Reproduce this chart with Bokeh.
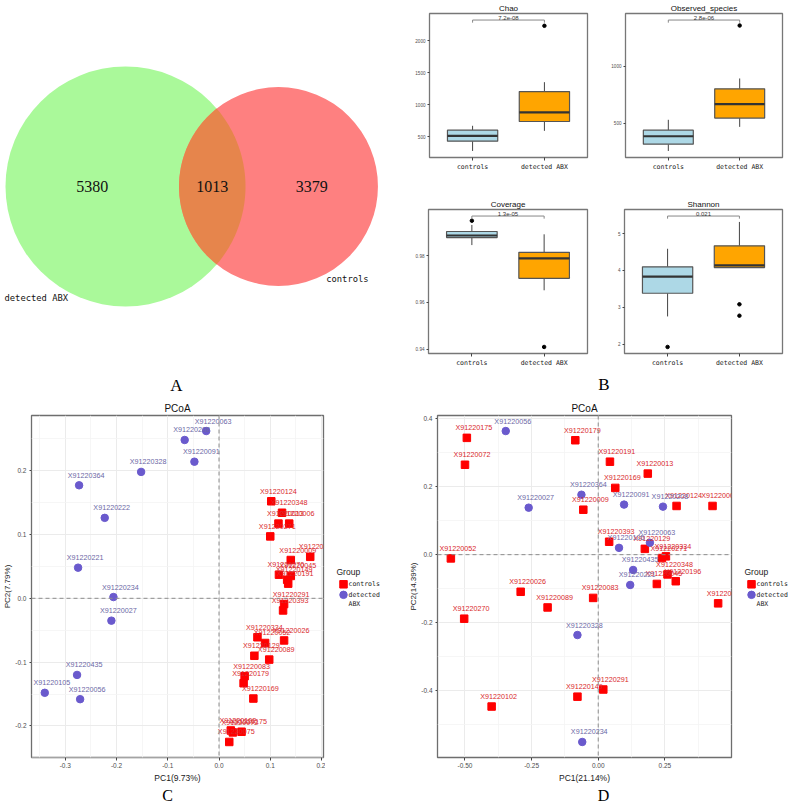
import math
from bokeh.plotting import figure
from bokeh.layouts import column, row
from bokeh.models import Range1d, FixedTicker, PrintfTickFormatter, Span
from bokeh.core.properties import value
from bokeh.embed import file_html
from bokeh.resources import INLINE

S = 1.0


def sc(v):
    return int(round(v * S))


SANS = "Liberation Sans"
MONO = "DejaVu Sans Mono"
SERIF = "Liberation Serif"

# ---------------- data: Venn (panel A) ----------------
venn_names = ["detected ABX", "controls"]
venn_unique = [5380, 3379]
venn_shared = 1013
venn_fill = ["#aaf99a", "#fe8080"]
venn_overlap_fill = "#e6854c"

# ---------------- data: alpha diversity boxplots (panel B) ----------------
groups = ["controls", "detected ABX"]
group_fill = ["#add8e6", "#ffa500"]
box_metrics = ["Chao", "Observed_species", "Coverage", "Shannon"]
box_q1 = [[432, 740], [315, 544], [0.9877, 0.9703], [3.38, 4.08]]
box_median = [[516, 882], [385, 667], [0.9886, 0.9788], [3.83, 4.14]]
box_q3 = [[605, 1207], [438, 800], [0.9903, 0.9814], [4.10, 4.67]]
box_lo = [[280, 594], [256, 467], [0.9845, 0.9652], [2.75, 4.08]]
box_hi = [[673, 1354], [529, 891], [0.9931, 0.9891], [4.59, 5.32]]
box_outliers = [[[], [2234]], [[], [1355]], [[0.9949], [0.9410]], [[1.92], [3.08, 2.77]]]
sig_labels = ["7.2e-08", "2.8e-06", "1.3e-05", "0.021"]
sig_y = [2324, 1403, 0.9969, 5.48]
box_ticks = [[500, 1000, 1500, 2000], [500, 1000], [0.94, 0.96, 0.98, 1.00], [2, 3, 4, 5]]
box_fmt = ["%d", "%d", "%.2f", "%d"]

# ---------------- data: PCoA panel C ----------------
c_ctrl_names = ["X91220124", "X91220348", "X91220013", "X91220006", "X91220271",
                "X91220009", "X91220196", "X91220270", "X91220045", "X91220149",
                "X91220191", "X91220291", "X91220393", "X91220334", "X91220052",
                "X91220026", "X91220129", "X91220089", "X91220083", "X91220179",
                "X91220169", "X91220102", "X91220175", "X91220072", "X91220075"]
c_ctrl_x = [0.102, 0.123, 0.116, 0.137, 0.100, 0.140, 0.178, 0.117, 0.140, 0.133,
            0.135, 0.127, 0.125, 0.075, 0.090, 0.127, 0.069, 0.098, 0.050, 0.048,
            0.067, 0.023, 0.044, 0.027, 0.020]
c_ctrl_y = [0.152, 0.134, 0.117, 0.117, 0.097, 0.060, 0.065, 0.037, 0.035, 0.029,
            0.023, -0.009, -0.019, -0.061, -0.070, -0.066, -0.090, -0.096, -0.122, -0.133,
            -0.157, -0.207, -0.209, -0.210, -0.225]
c_det_names = ["X91220063", "X91220208", "X91220091", "X91220328", "X91220364",
               "X91220222", "X91220221", "X91220234", "X91220027", "X91220435",
               "X91220105", "X91220056"]
c_det_x = [-0.025, -0.067, -0.048, -0.152, -0.273, -0.223, -0.275, -0.206, -0.210, -0.277,
           -0.340, -0.271]
c_det_y = [0.262, 0.248, 0.214, 0.198, 0.177, 0.126, 0.048, 0.002, -0.035, -0.120,
           -0.148, -0.158]
c_xticks = [-0.3, -0.2, -0.1, 0.0, 0.1, 0.2]
c_xminor = [-0.35, -0.25, -0.15, -0.05, 0.05, 0.15]
c_yticks = [-0.2, -0.1, 0.0, 0.1, 0.2]
c_yminor = [-0.25, -0.15, -0.05, 0.05, 0.15, 0.25]

# ---------------- data: PCoA panel D ----------------
d_ctrl_names = ["X91220175", "X91220072", "X91220179", "X91220191", "X91220013",
                "X91220169", "X91220009", "X91220124", "X91220006", "X91220393",
                "X91220129", "X91220271", "X91220334", "X91220348", "X91220196",
                "X91220045", "X91220052", "X91220026", "X91220083", "X91220089",
                "X91220075", "X91220270", "X91220291", "X91220149", "X91220102"]
d_ctrl_x = [-0.493, -0.500, -0.086, 0.044, 0.186, 0.064, -0.056, 0.294, 0.429, 0.041,
            0.175, 0.239, 0.254, 0.260, 0.291, 0.220, -0.553, -0.291, -0.019, -0.190,
            0.450, -0.503, 0.019, -0.078, -0.400]
d_ctrl_y = [0.343, 0.264, 0.336, 0.273, 0.238, 0.196, 0.132, 0.143, 0.143, 0.038,
            0.017, -0.010, -0.005, -0.058, -0.078, -0.086, -0.011, -0.109, -0.127, -0.155,
            -0.143, -0.188, -0.396, -0.417, -0.446]
d_det_names = ["X91220056", "X91220027", "X91220364", "X91220091", "X91220208",
               "X91220105", "X91220063", "X91220435", "X91220221", "X91220328",
               "X91220234"]
d_det_x = [-0.347, -0.261, -0.063, 0.097, 0.243, 0.078, 0.194, 0.131, 0.120, -0.078, -0.060]
d_det_y = [0.363, 0.138, 0.176, 0.147, 0.141, 0.020, 0.035, -0.045, -0.089, -0.236, -0.550]
d_xticks = [-0.50, -0.25, 0.0, 0.25]
d_xminor = [-0.375, -0.125, 0.125, 0.375]
d_yticks = [-0.4, -0.2, 0.0, 0.2, 0.4]
d_yminor = [-0.5, -0.3, -0.1, 0.1, 0.3]

panel_letters = ["A", "B", "C", "D"]

CTRL_COLOR = "#ff0000"
DET_COLOR = "#6a5acd"
CTRL_TEXT = "#d9282c"
DET_TEXT = "#6c68a6"


def blank_fig(w, h, xr, yr):
    f = figure(width=w, height=h, x_range=xr, y_range=yr, output_backend="svg",
               toolbar_location=None, x_axis_location=None, y_axis_location=None,
               min_border=0)
    f.grid.visible = False
    f.outline_line_color = None
    return f


# =============== Panel A: Venn ===============
VW, VH = 400, 395  # reference units


def lens_area(d, r1, r2):
    a1 = r1 * r1 * math.acos((d * d + r1 * r1 - r2 * r2) / (2 * d * r1))
    a2 = r2 * r2 * math.acos((d * d + r2 * r2 - r1 * r1) / (2 * d * r2))
    a3 = 0.5 * math.sqrt((-d + r1 + r2) * (d + r1 - r2) * (d - r1 + r2) * (d + r1 + r2))
    return a1 + a2 - a3


n1 = venn_unique[0] + venn_shared
n2 = venn_unique[1] + venn_shared
R1 = 120.0
K = R1 / math.sqrt(n1 / math.pi)
r1 = K * math.sqrt(n1 / math.pi)
r2 = K * math.sqrt(n2 / math.pi)
target = K * K * venn_shared
lo_d, hi_d = abs(r1 - r2) + 1e-6, r1 + r2 - 1e-6
for _ in range(80):
    mid = 0.5 * (lo_d + hi_d)
    if lens_area(mid, r1, r2) > target:
        lo_d = mid
    else:
        hi_d = mid
dist = 0.5 * (lo_d + hi_d)

cx1 = 5 + r1
cy = 186.0
cx2 = cx1 + dist

venn = blank_fig(sc(VW), sc(VH), Range1d(0, VW), Range1d(VH, 0))
venn.circle(x=[cx1, cx2], y=[cy, cy], radius=[r1, r2], fill_color=venn_fill, line_color=None)

a = (dist * dist + r1 * r1 - r2 * r2) / (2 * dist)
hh = math.sqrt(r1 * r1 - a * a)
t1 = math.atan2(hh, a)
t2 = math.atan2(hh, dist - a)
NP = 80
lx, ly = [], []
for k in range(NP + 1):
    ang = -t1 + 2 * t1 * k / NP
    lx.append(cx1 + r1 * math.cos(ang))
    ly.append(cy + r1 * math.sin(ang))
for k in range(NP + 1):
    ang = math.pi - t2 + 2 * t2 * k / NP
    lx.append(cx2 + r2 * math.cos(ang))
    ly.append(cy + r2 * math.sin(ang))
venn.patch(lx, ly, fill_color=venn_overlap_fill, line_color=None)

count_x = [((cx1 - r1) + (cx2 - r2)) / 2, ((cx2 - r2) + (cx1 + r1)) / 2, ((cx1 + r1) + (cx2 + r2)) / 2]
venn.text(x=count_x, y=[cy] * 3,
          text=[str(venn_unique[0]), str(venn_shared), str(venn_unique[1])],
          text_align="center", text_baseline="middle", text_font=value(SERIF),
          text_font_size="16px", text_color="#111111")
venn.text(x=[cx1 - r1 - 1, cx2 + 0.48 * r2], y=[cy + 0.93 * r1, cy + 0.93 * r2],
          text=venn_names, text_align="left", text_baseline="middle",
          text_font=value(MONO), text_font_size="8.8px", text_color="#111111")
venn.text(x=[VW * 0.44], y=[VH - 10], text=[panel_letters[0]], text_align="center",
          text_baseline="middle", text_font=value(SERIF), text_font_size="17px",
          text_color="#000000")


# =============== Panel B: boxplots ===============
def box_panel(i, w, h, left, right, top, bottom):
    all_lo = box_lo[i] + [v for g in box_outliers[i] for v in g]
    lo = min(all_lo)
    hi = sig_y[i]
    span = hi - lo
    xpos = [1, 2]
    p = figure(width=w, height=h, x_range=Range1d(0.4, 2.6),
               y_range=Range1d(lo - 0.05 * span, hi + 0.05 * span),
               output_backend="svg", toolbar_location=None, title=box_metrics[i],
               min_border_left=left, min_border_right=right, min_border_top=top,
               min_border_bottom=bottom)
    p.grid.visible = False
    p.outline_line_color = "#777777"
    p.outline_line_width = 1.3
    p.title.text_font = SANS
    p.title.text_font_size = "8px"
    p.title.text_font_style = "normal"
    p.title.align = "center"
    p.title.standoff = 2
    p.title.text_color = "#111111"

    p.segment(x0=xpos, y0=box_lo[i], x1=xpos, y1=box_q1[i], line_color="#444444", line_width=1)
    p.segment(x0=xpos, y0=box_q3[i], x1=xpos, y1=box_hi[i], line_color="#444444", line_width=1)
    p.vbar(x=xpos, bottom=box_q1[i], top=box_q3[i], width=0.7, fill_color=group_fill,
           line_color="#555555", line_width=1.2)
    p.rect(x=xpos, y=box_median[i], width=0.7, height=2.2, height_units="screen",
           fill_color="#333333", line_color=None)
    ox = [xpos[g] for g in range(2) for _ in box_outliers[i][g]]
    oy = [v for g in range(2) for v in box_outliers[i][g]]
    if ox:
        p.scatter(ox, oy, size=3.5, color="#000000")

    tip = 0.02 * span
    s = sig_y[i]
    p.segment(x0=[1, 1, 2], y0=[s, s, s], x1=[2, 1, 2], y1=[s, s - tip, s - tip],
              line_color="#888888", line_width=1)
    p.text(x=[1.5], y=[s], text=[sig_labels[i]], text_align="center", text_baseline="bottom",
           y_offset=0, text_font=value(SANS), text_font_size="6px", text_color="#333333")

    p.xaxis.ticker = FixedTicker(ticks=xpos)
    p.xaxis.major_label_overrides = {1: groups[0], 2: groups[1]}
    p.xaxis.major_label_text_font = MONO
    p.xaxis.major_label_text_font_size = "6.5px"
    p.xaxis.major_label_text_color = "#1a1a1a"
    p.xaxis.major_label_standoff = 2
    p.xaxis.major_tick_out = 3
    p.xaxis.major_tick_in = 0
    p.xaxis.minor_tick_line_color = None
    p.xaxis.axis_line_color = None
    p.xaxis.major_tick_line_color = "#444444"

    p.yaxis.ticker = FixedTicker(ticks=box_ticks[i])
    p.yaxis.formatter = PrintfTickFormatter(format=box_fmt[i])
    p.yaxis.major_label_text_font = SANS
    p.yaxis.major_label_text_font_size = "4.6px"
    p.yaxis.major_label_text_color = "#4d4d4d"
    p.yaxis.major_label_standoff = 2
    p.yaxis.major_tick_out = 2
    p.yaxis.major_tick_in = 0
    p.yaxis.minor_tick_line_color = None
    p.yaxis.axis_line_color = None
    p.yaxis.major_tick_line_color = "#444444"
    return p


TOP_H = sc(195)
BOT_H = sc(178)
FR_H = sc(144)
chao = box_panel(0, sc(196), TOP_H, sc(29), sc(9), sc(13), TOP_H - sc(13) - FR_H)
obs = box_panel(1, sc(197), TOP_H, sc(29), sc(11), sc(13), TOP_H - sc(13) - FR_H)
cov = box_panel(2, sc(196), BOT_H, sc(28), sc(9), sc(14), BOT_H - sc(14) - FR_H)
sha = box_panel(3, sc(197), BOT_H, sc(28), sc(11), sc(14), BOT_H - sc(14) - FR_H)

BW = sc(196) + sc(197)
BH = sc(VH) - TOP_H - BOT_H
bfig = blank_fig(BW, BH, Range1d(0, BW), Range1d(BH, 0))
bfig.text(x=[BW / 2 + 7], y=[BH / 2], text=[panel_letters[1]], text_align="center",
          text_baseline="middle", text_font=value(SERIF), text_font_size="17px",
          text_color="#000000")

# =============== Panels C / D: PCoA ===============
TOTAL_W = sc(793)
TOTAL_H = sc(803) - 1
STRIP_H = 17
PH = TOTAL_H - sc(VH) - STRIP_H
P_TOP = sc(20)
P_FRAME = sc(348)
P_BOTTOM = PH - P_TOP - P_FRAME


def pcoa_panel(w, h, left, right, ctrl, det, xt, xminor, yt, yminor, xfmt, yfmt, xlab, ylab):
    cn, cxv, cyv = ctrl
    dn, dxv, dyv = det
    ax = cxv + dxv
    ay = cyv + dyv
    xs = max(ax) - min(ax)
    ys = max(ay) - min(ay)
    p = figure(width=w, height=h,
               x_range=Range1d(min(ax) - 0.05 * xs, max(ax) + 0.05 * xs),
               y_range=Range1d(min(ay) - 0.05 * ys, max(ay) + 0.05 * ys),
               output_backend="svg", toolbar_location=None, title="PCoA",
               min_border_left=left, min_border_right=right, min_border_top=P_TOP,
               min_border_bottom=P_BOTTOM)
    p.title.text_font = SANS
    p.title.text_font_size = "10px"
    p.title.text_font_style = "normal"
    p.title.align = "center"
    p.title.standoff = 4
    p.title.text_color = "#111111"
    p.outline_line_color = "#6e6e6e"
    p.outline_line_width = 1.3

    p.xaxis.ticker = FixedTicker(ticks=xt, minor_ticks=xminor)
    p.yaxis.ticker = FixedTicker(ticks=yt, minor_ticks=yminor)
    p.grid.grid_line_color = "#ebebeb"
    p.grid.grid_line_width = 1
    p.grid.minor_grid_line_color = "#f4f4f4"
    p.grid.minor_grid_line_width = 0.8

    p.xaxis.formatter = PrintfTickFormatter(format=xfmt)
    p.yaxis.formatter = PrintfTickFormatter(format=yfmt)
    for axis in (p.xaxis, p.yaxis):
        axis.axis_line_color = None
        axis.minor_tick_line_color = None
        axis.major_tick_line_color = "#444444"
        axis.major_tick_out = 3
        axis.major_tick_in = 0
        axis.major_label_text_font = SANS
        axis.major_label_text_font_size = "6.5px"
        axis.major_label_text_color = "#4d4d4d"
        axis.major_label_standoff = 1
        axis.axis_label_text_font = SANS
        axis.axis_label_text_font_size = "8.5px"
        axis.axis_label_text_font_style = "normal"
        axis.axis_label_text_color = "#1a1a1a"
        axis.axis_label_standoff = 2
    p.yaxis.major_tick_out = 2
    p.yaxis.axis_label_standoff = 0
    p.yaxis.axis_label_text_font_size = "8px"
    p.xaxis.axis_label = xlab
    p.yaxis.axis_label = ylab

    p.add_layout(Span(location=0, dimension="height", line_color="#8c8c8c",
                      line_dash="4 3", line_width=1))
    p.add_layout(Span(location=0, dimension="width", line_color="#8c8c8c",
                      line_dash="4 3", line_width=1))

    p.scatter(cxv, cyv, marker="square", size=7.5, color=CTRL_COLOR)
    p.scatter(dxv, dyv, marker="circle", size=7.5, color=DET_COLOR)
    p.text(x=cxv, y=cyv, text=cn, x_offset=7, y_offset=-10, text_align="center",
           text_baseline="middle", text_font=value(SANS), text_font_size="7.2px",
           text_color=CTRL_TEXT)
    p.text(x=dxv, y=dyv, text=dn, x_offset=7, y_offset=-10, text_align="center",
           text_baseline="middle", text_font=value(SANS), text_font_size="7.2px",
           text_color=DET_TEXT)
    return p


def legend_panel(w, h):
    f = blank_fig(w, h, Range1d(0, w), Range1d(h, 0))
    mid = P_TOP + P_FRAME / 2.0
    f.text(x=[11], y=[mid - 15], text=["Group"], text_align="left", text_baseline="middle",
           text_font=value(SANS), text_font_size="8.5px", text_color="#1a1a1a")
    f.scatter([18], [mid - 1.5], marker="square", size=7.5, color=CTRL_COLOR)
    f.scatter([18], [mid + 10.5], marker="circle", size=7.5, color=DET_COLOR)
    det_words = groups[1].split(" ")
    f.text(x=[23, 23, 23], y=[mid - 1.5, mid + 10.5, mid + 20.5],
           text=[groups[0]] + det_words, text_align="left", text_baseline="middle",
           text_font=value(MONO), text_font_size="6.5px", text_color="#1a1a1a")
    return f


C_W = sc(VW)
D_W = TOTAL_W - C_W
C_LEG = sc(75)
D_LEG = sc(60)
pc = pcoa_panel(C_W - C_LEG, PH, sc(29), 2,
                (c_ctrl_names, c_ctrl_x, c_ctrl_y), (c_det_names, c_det_x, c_det_y),
                c_xticks, c_xminor, c_yticks, c_yminor, "%.1f", "%.1f",
                "PC1(9.73%)", "PC2(7.79%)")
legc = legend_panel(C_LEG, PH)
pd_ = pcoa_panel(D_W - D_LEG, PH, sc(37), 2,
                 (d_ctrl_names, d_ctrl_x, d_ctrl_y), (d_det_names, d_det_x, d_det_y),
                 d_xticks, d_xminor, d_yticks, d_yminor, "%.2f", "%.1f",
                 "PC1(21.14%)", "PC2(14.39%)")
legd = legend_panel(D_LEG, PH)

c_center = (sc(29) + (C_W - C_LEG - 2)) / 2.0
d_center = C_W + (sc(37) + (D_W - D_LEG - 2)) / 2.0
strip = blank_fig(TOTAL_W, STRIP_H, Range1d(0, TOTAL_W), Range1d(STRIP_H, 0))
strip.text(x=[c_center - 9, d_center + 19], y=[STRIP_H / 2.0 + 1] * 2,
           text=panel_letters[2:], text_align="center", text_baseline="middle",
           text_font=value(SERIF), text_font_size="16px", text_color="#000000")

layout = column(row(venn, column(row(chao, obs), row(cov, sha), bfig)),
                row(pc, legc, pd_, legd), strip)

with open("out.html", "w") as f:
    f.write(file_html(layout, INLINE))
